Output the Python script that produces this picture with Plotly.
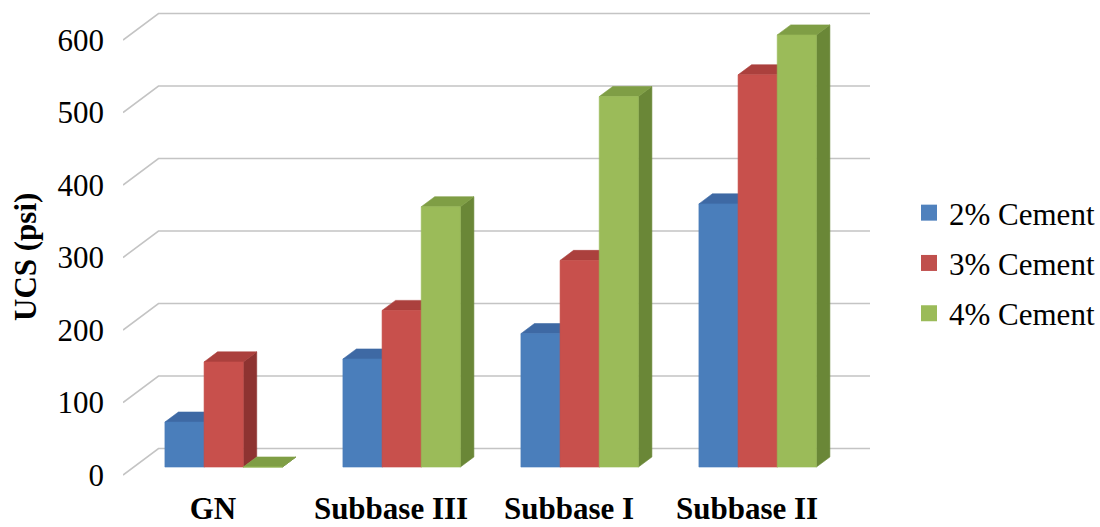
import plotly.graph_objects as go

# ---- data -------------------------------------------------------------
categories = ["GN", "Subbase III", "Subbase I", "Subbase II"]
series_names = ["2% Cement", "3% Cement", "4% Cement"]
cement_2 = [62, 149, 184, 363]
cement_3 = [145, 216, 285, 541]
cement_4 = [0, 359, 511, 596]
y_ticks = [0, 100, 200, 300, 400, 500, 600]

series_values = [cement_2, cement_3, cement_4]

# face colours per series: front, top, side
face_colors = [
    ("#4a7ebb", "#3e69a4", "#32588a"),
    ("#c8504c", "#ab403d", "#8e3331"),
    ("#9bbb59", "#7f9e45", "#6a8737"),
]
legend_colors = ["#4f81bd", "#c0504d", "#9bbb59"]

# ---- geometry of the pseudo-3D frame -----------------------------------
W, H = 1100, 527
M_L, M_R, M_T, M_B = 123, 230, 0, 50
PLOT_W = W - M_L - M_R
PLOT_H = H - M_T - M_B

CAT_PX = 178.0          # pixels per category step
UNIT_PX = 0.725         # pixels per psi
FIRST_CAT_PX = 213.0    # x pixel of first category on the front plane
ZERO_PX = 475.0         # y pixel of 0 psi on the front plane

X_MIN = -(FIRST_CAT_PX - M_L) / CAT_PX
X_MAX = X_MIN + PLOT_W / CAT_PX
Y_MIN = -(M_T + PLOT_H - ZERO_PX) / UNIT_PX
Y_MAX = Y_MIN + PLOT_H / UNIT_PX

# depth of the chart (front plane -> back wall) in axis units
DEPTH_X = 35.5 / CAT_PX
DEPTH_Y = 26.5 / UNIT_PX
F_FRONT, F_BACK = 0.30, 0.68   # bar depth as fraction of chart depth
BAR_W = 0.22

FONT = "Liberation Serif, Times New Roman, serif"
FS = 31

fig = go.Figure()

# back-wall gridlines with their receding left edge
for v in y_ticks:
    fig.add_trace(go.Scatter(
        x=[X_MIN, X_MIN + DEPTH_X, X_MAX],
        y=[v, v + DEPTH_Y, v + DEPTH_Y],
        mode="lines", line=dict(color="#c4c4c4", width=1.6),
        hoverinfo="skip", showlegend=False,
    ))

# bars, painted left to right: side, top, front
ddx = (F_BACK - F_FRONT) * DEPTH_X
ddy = (F_BACK - F_FRONT) * DEPTH_Y
for i, cat in enumerate(categories):
    for j, vals in enumerate(series_values):
        v = vals[i]
        front_c, top_c, side_c = face_colors[j]
        x0 = i - 1.5 * BAR_W + j * BAR_W + F_FRONT * DEPTH_X
        x1 = x0 + BAR_W
        y0 = F_FRONT * DEPTH_Y
        y1 = y0 + v
        faces = [
            ([x1, x1 + ddx, x1 + ddx, x1, x1], [y0, y0 + ddy, y1 + ddy, y1, y0], side_c),
            ([x0, x1, x1 + ddx, x0 + ddx, x0], [y1, y1, y1 + ddy, y1 + ddy, y1], top_c),
            ([x0, x1, x1, x0, x0], [y0, y0, y1, y1, y0], front_c),
        ]
        for fx, fy, c in faces:
            fig.add_trace(go.Scatter(
                x=fx, y=fy, mode="lines", fill="toself", fillcolor=c,
                line=dict(width=0.6, color=c),
                name=series_names[j], hoverinfo="name", showlegend=False,
            ))

# legend entries
for name, c in zip(series_names, legend_colors):
    fig.add_trace(go.Scatter(
        x=[None], y=[None], mode="markers", name=name, legendgroup=name,
        marker=dict(symbol="square", size=16, color=c),
    ))

fig.add_annotation(
    text="UCS (psi)", textangle=-90, xref="paper", yref="paper",
    x=(25 - M_L) / PLOT_W, y=(M_T + PLOT_H - 257) / PLOT_H,
    showarrow=False, xanchor="center", yanchor="middle",
    font=dict(family=FONT, size=FS, color="black", weight="bold"),
)

fig.update_layout(
    width=W, height=H,
    margin=dict(l=M_L, r=M_R, t=M_T, b=M_B),
    paper_bgcolor="white", plot_bgcolor="white",
    font=dict(family=FONT, size=FS, color="black"),
    showlegend=True,
    legend=dict(
        x=(909 - M_L) / PLOT_W, xanchor="left",
        y=(M_T + PLOT_H - 263) / PLOT_H, yanchor="middle",
        font=dict(family=FONT, size=FS, color="black"),
        tracegroupgap=7, bgcolor="rgba(0,0,0,0)",
    ),
    xaxis=dict(
        range=[X_MIN, X_MAX], tickvals=list(range(len(categories))),
        ticktext=categories, showgrid=False, zeroline=False, showline=False,
        ticks="", ticklabelstandoff=10, automargin=False,
        tickfont=dict(family=FONT, size=FS, color="black", weight="bold"),
    ),
    yaxis=dict(
        range=[Y_MIN, Y_MAX], tickvals=y_ticks, showgrid=False,
        zeroline=False, showline=False, ticks="", ticklabelstandoff=18,
        automargin=False,
        tickfont=dict(family=FONT, size=FS, color="black"),
    ),
)

fig.write_html("out.html")
